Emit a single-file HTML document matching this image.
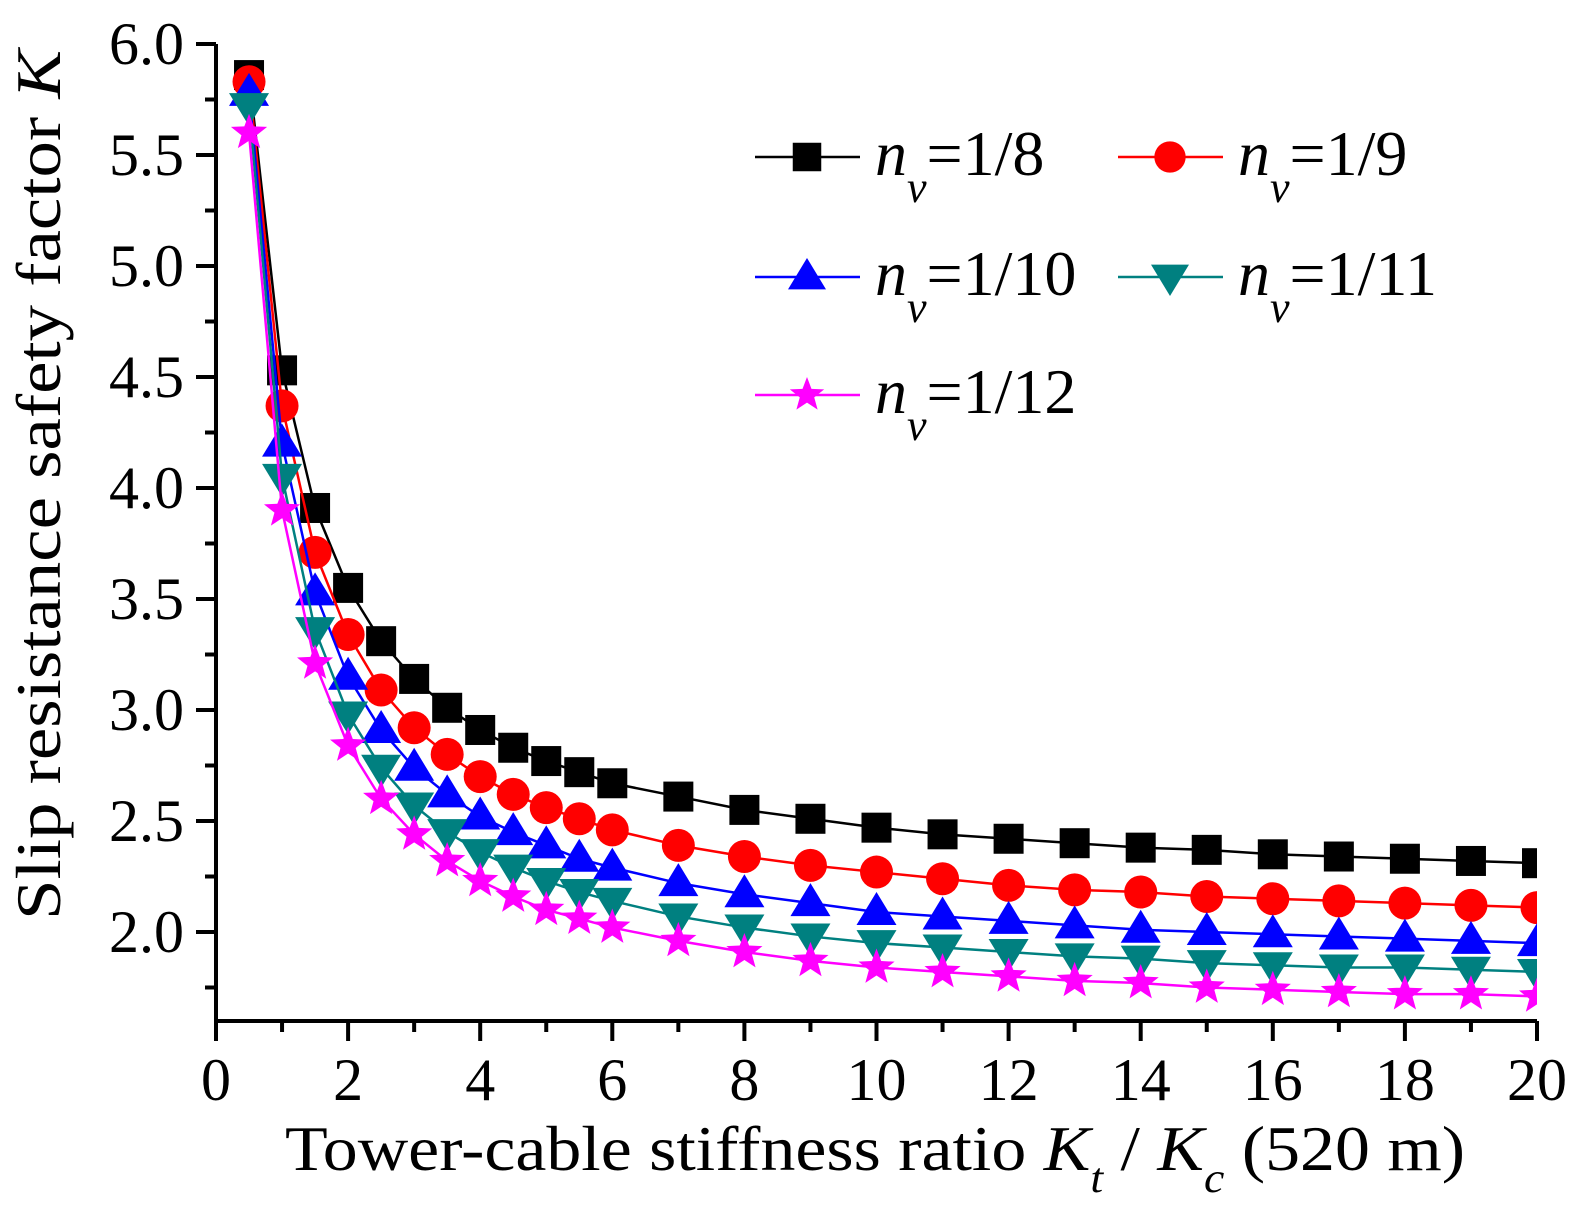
<!DOCTYPE html>
<html><head><meta charset="utf-8"><style>
body{margin:0;background:#fff}
svg{display:block;font-family:"Liberation Serif",serif}
</style></head><body>
<svg id="chart" width="1582" height="1227" viewBox="0 0 1582 1227">
<defs><clipPath id="plotclip"><rect x="150" y="0" width="1387" height="1021"/></clipPath></defs>
<g id="axes"></g>
<g id="series" clip-path="url(#plotclip)"></g>
<g id="legend"></g>
<text x="285" y="1170" font-size="64" textLength="1180" lengthAdjust="spacingAndGlyphs">Tower-cable stiffness ratio <tspan font-style="italic">K</tspan><tspan font-style="italic" font-size="42" dy="22">t</tspan><tspan dy="-22"> / </tspan><tspan font-style="italic">K</tspan><tspan font-style="italic" font-size="42" dy="22">c</tspan><tspan dy="-22">  (520 m)</tspan></text>
<text transform="translate(60,920) rotate(-90)" font-size="64" textLength="870" lengthAdjust="spacingAndGlyphs">Slip resistance safety factor <tspan font-style="italic">K</tspan></text>
</svg>
<script>
const xs=[0.5,1,1.5,2,2.5,3,3.5,4,4.5,5,5.5,6,7,8,9,10,11,12,13,14,15,16,17,18,19,20];
const s18=[5.86,4.53,3.91,3.55,3.31,3.14,3.01,2.91,2.83,2.77,2.72,2.67,2.61,2.55,2.51,2.47,2.44,2.42,2.40,2.38,2.37,2.35,2.34,2.33,2.32,2.31];
const s19=[5.83,4.37,3.71,3.34,3.09,2.92,2.80,2.70,2.62,2.56,2.51,2.46,2.39,2.34,2.30,2.27,2.24,2.21,2.19,2.18,2.16,2.15,2.14,2.13,2.12,2.11];
const s110=[5.78,4.20,3.53,3.15,2.91,2.74,2.62,2.52,2.45,2.39,2.33,2.29,2.22,2.17,2.13,2.09,2.07,2.05,2.03,2.01,2.00,1.99,1.98,1.97,1.96,1.95];
const s111=[5.72,4.05,3.36,2.98,2.74,2.57,2.45,2.36,2.29,2.23,2.18,2.14,2.07,2.02,1.98,1.95,1.93,1.91,1.89,1.88,1.86,1.85,1.84,1.84,1.83,1.82];
const s112=[5.60,3.90,3.21,2.84,2.60,2.44,2.32,2.23,2.16,2.10,2.06,2.02,1.96,1.91,1.87,1.84,1.82,1.80,1.78,1.77,1.75,1.74,1.73,1.72,1.72,1.71];
const xTicks=[0,2,4,6,8,10,12,14,16,18,20];
const yTicks=[2.0,2.5,3.0,3.5,4.0,4.5,5.0,5.5,6.0];
const seriesNames=["1/8","1/9","1/10","1/11","1/12"];
const NS="http://www.w3.org/2000/svg";
const X0=216,X1=1537,YB=1021;
const sx=v=>X0+(v-0)/(20-0)*(X1-X0);
const sy=v=>932-(v-2.0)*222;
function mk(t,a,p){const e=document.createElementNS(NS,t);for(const k in a)e.setAttribute(k,a[k]);p.appendChild(e);return e;}
const ax=document.getElementById('axes');
let e=mk('path',{d:`M${X0},${sy(6)}V${YB}H${X1}`,stroke:'#000','stroke-width':4,fill:'none'},ax);


for(let v=0;v<=20;v++){const x=sx(v);const maj=v%2==0;
 e=mk('line',{x1:x,x2:x,y1:YB,y2:YB+(maj?20:11),stroke:'#000','stroke-width':4},ax);
 
 }
xTicks.forEach(v=>{e=mk('text',{x:sx(v),y:1100,'font-size':60,'text-anchor':'middle'},ax);e.textContent=v;
 
 });
for(let k=7;k<=24;k++){const v=k/4;const y=sy(v);const maj=k%2==0;
 e=mk('line',{x1:X0,x2:X0-(maj?20:11),y1:y,y2:y,stroke:'#000','stroke-width':4},ax);
 
 }
yTicks.forEach(v=>{e=mk('text',{x:184,y:sy(v)+20,'font-size':60,'text-anchor':'end'},ax);e.textContent=v.toFixed(1);
 
 });
const cols=['#000','#f00','#00f','#008080','#f0f'];
const kinds=['square','circle','up','down','star'];
function marker(kind,x,y,c,p,s){
 if(kind=='square')return mk('rect',{x:x-15*s,y:y-15*s,width:30*s,height:30*s,fill:c},p);
 if(kind=='circle')return mk('circle',{cx:x,cy:y,r:16.5*s,fill:c},p);
 if(kind=='up')return mk('path',{d:`M${x},${y-20*s}L${x+20*s},${y+13*s}L${x-20*s},${y+13*s}Z`,fill:c},p);
 if(kind=='down')return mk('path',{d:`M${x},${y+20*s}L${x+20*s},${y-13*s}L${x-20*s},${y-13*s}Z`,fill:c},p);
 let d='';for(let i=0;i<10;i++){const r=(i%2?8:19)*s,a=-Math.PI/2+i*Math.PI/5;d+=(i?'L':'M')+(x+r*Math.cos(a))+','+(y+r*Math.sin(a));}
 return mk('path',{d:d+'Z',fill:c},p);
}
const sg=document.getElementById('series');
[s18,s19,s110,s111,s112].forEach((s,i)=>{
 const g=mk('g',{},sg);
 
 
 const l=mk('polyline',{points:xs.map((x,j)=>sx(x)+','+sy(s[j])).join(' '),fill:'none',stroke:cols[i],'stroke-width':2.5},g);
 
 
 xs.forEach((x,j)=>{const m=marker(kinds[i],sx(x),sy(s[j]),cols[i],g,1);
  
  });
});
const lg=document.getElementById('legend');
const lp=[[755,157],[1118,157],[755,277],[1118,277],[755,395]];
lp.forEach((p,i)=>{const g=mk('g',{},lg);
 
 
 mk('line',{x1:p[0],x2:p[0]+105,y1:p[1],y2:p[1],stroke:cols[i],'stroke-width':2.5},g);
 marker(kinds[i],p[0]+52,p[1],cols[i],g,0.95);
 const t=mk('text',{x:p[0]+120,y:p[1]+18,'font-size':64},g);
 t.innerHTML=`<tspan font-style="italic">n</tspan><tspan font-style="italic" font-size="44" dy="27">v</tspan><tspan dy="-27">=${seriesNames[i]}</tspan>`;
});
</script>
</body></html>
